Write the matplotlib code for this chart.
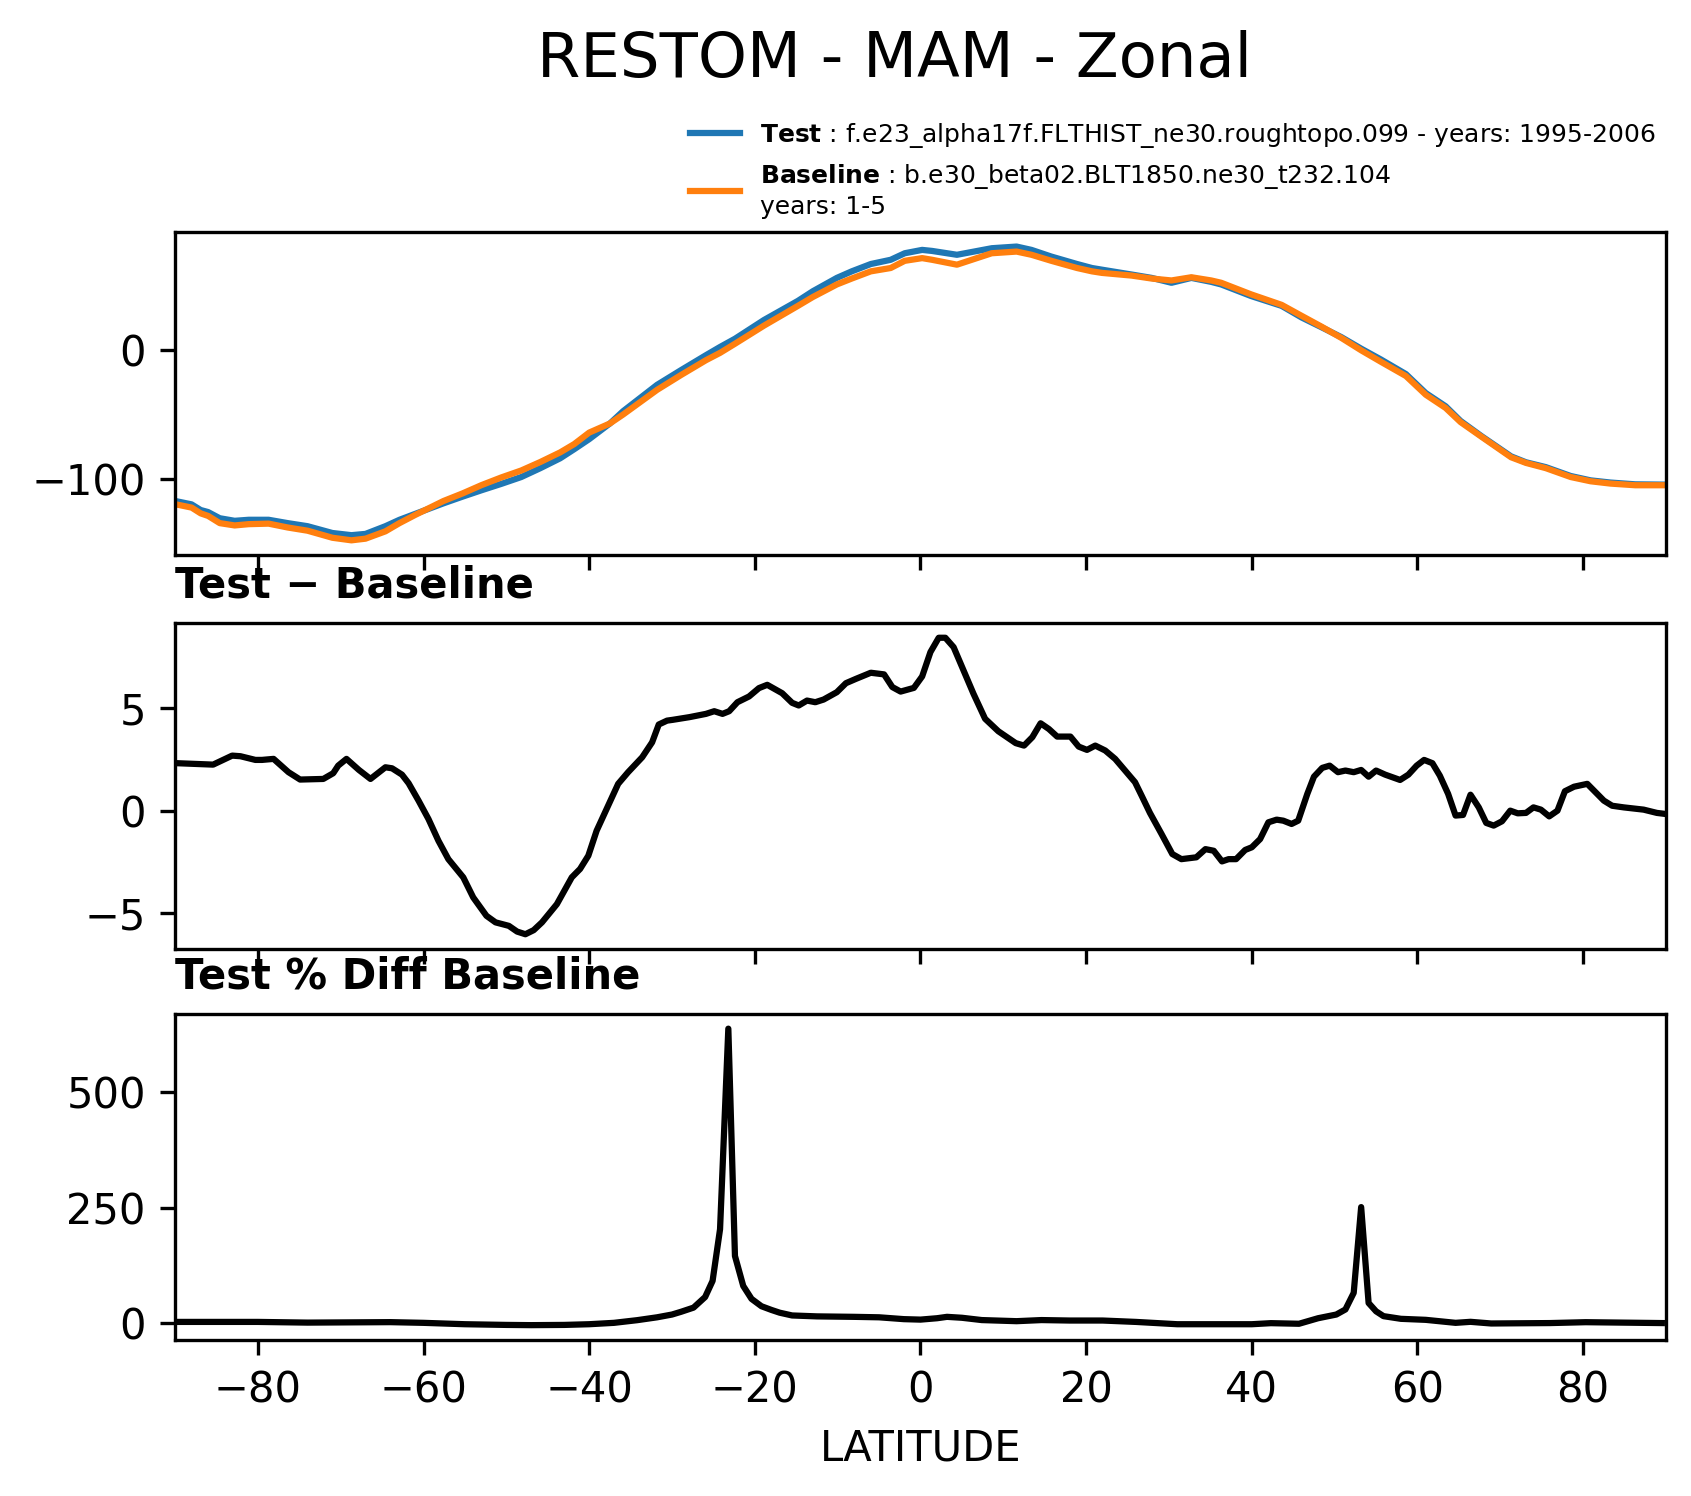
import numpy as np
import matplotlib
matplotlib.use("Agg")
import matplotlib.pyplot as plt

# zonal mean RESTOM, test and baseline
lat_top = [-89.5, -88, -86.9, -86, -84.6, -82.8, -81.1, -78.7, -76.4, -74, -71, -68.7, -67,
           -64.6, -62.9, -61, -57.6, -55.3, -53, -50.6, -48.2, -45.9, -43.5, -41.8, -40,
           -37.5, -35.9, -31.8, -28.9, -25.9, -24.2, -22.4, -18.9, -14.8, -13, -10.1, -8.3,
           -6, -3.6, -1.9, 0.2, 1.4, 4.4, 8.6, 11.6, 13.4, 15.8, 18.9, 20.7, 21.9, 25.5,
           27.9, 30.3, 32.7, 35.1, 36.3, 39.9, 43.6, 46, 48.4, 50.8, 53.2, 55.6, 58.6, 61,
           63.4, 65.2, 67.7, 71.3, 73.1, 75.5, 78.5, 80.9, 83.3, 86.3, 89.5]
test_vals = [-118, -120, -124.4, -126, -130.8, -132.8, -132, -132, -134.6, -137, -142.3,
             -144, -143, -137, -132, -127.4, -119.2, -114, -109, -104, -98.7, -91.8, -84.1,
             -77, -69.2, -57, -47.4, -26.9, -15.4, -3.8, 2.6, 9, 23.6, 38.5, 46, 56.4, 61.5,
             67.2, 70.5, 75.6, 78.2, 77.4, 74.4, 79.5, 80.8, 78.2, 73, 67.2, 64.1, 62.8, 59,
             56.4, 52.6, 56.4, 53.3, 51.3, 42.3, 34.6, 25.6, 18, 10.3, 1.3, -7.2, -18.5,
             -33.3, -43.6, -55, -66.7, -82.6, -87.2, -91, -97.9, -101.3, -103, -104.4,
             -104.6]
base_vals = [-120.5, -122.5, -127, -129, -134.6, -136.4, -135.4, -135, -138, -140.5, -146,
             -148, -146.7, -141, -134.6, -128.2, -117.4, -111.5, -105, -99, -93.6, -87,
             -79.5, -73, -64.1, -57, -50, -30.8, -19.2, -7.7, -2, 5.1, 19.2, 34.6, 41.5,
             51.3, 55.9, 61.5, 64.1, 69.7, 71.8, 70.5, 66.7, 75.6, 76.9, 74.4, 69.7, 64.1,
             61.5, 60.3, 58.2, 55.9, 54.4, 56.9, 54.4, 52.6, 43.6, 35.4, 26.9, 18.5, 9.7, 0,
             -9, -20, -34.6, -44.9, -55.9, -67.2, -83.3, -87.7, -91.8, -98.7, -102, -103.8,
             -105.1, -105.1]

# test - baseline
lat_diff = [-89.8, -85.4, -83.1, -82.1, -80.3, -79.5, -78.1, -76.3, -74.9, -72.1, -70.9,
            -70.3, -69.3, -67.8, -66.4, -64.6, -63.8, -62.6, -61.8, -60.6, -59.4, -58.2,
            -57.0, -55.2, -54.0, -52.4, -51.3, -49.7, -48.7, -47.7, -46.7, -45.7, -43.9,
            -42.1, -41.1, -40.1, -39.1, -37.9, -36.5, -35.3, -33.6, -32.4, -31.6, -30.6,
            -29.9, -27.9, -25.9, -24.9, -23.9, -23.1, -22.1, -20.7, -19.5, -18.5, -16.7,
            -15.5, -14.7, -13.7, -12.7, -11.7, -10.1, -9.0, -7.8, -6.0, -4.4, -3.4, -2.4,
            -0.8, 0.2, 1.2, 2.2, 3.0, 4.0, 5.2, 6.4, 7.8, 9.4, 11.5, 12.5, 13.5, 14.5, 15.5,
            16.5, 18.1, 19.1, 20.1, 21.1, 22.3, 23.5, 24.7, 25.9, 26.7, 27.7, 29.1, 30.4,
            31.5, 33.3, 34.4, 35.4, 36.4, 37.2, 38.1, 39.2, 40.0, 41.0, 42.0, 43.0, 43.8,
            44.8, 45.6, 46.7, 47.5, 48.5, 49.4, 50.4, 51.3, 52.3, 53.2, 54.1, 55.0, 56.1,
            57.9, 58.9, 59.9, 60.8, 61.8, 62.7, 63.7, 64.6, 65.5, 66.4, 67.4, 68.3, 69.2,
            70.2, 71.2, 72.1, 73.1, 74.0, 74.9, 75.9, 76.9, 77.8, 78.9, 80.5, 81.7, 82.5,
            83.5, 84.9, 87.3, 88.9, 89.9]
diff_vals = [2.32, 2.25, 2.69, 2.66, 2.48, 2.48, 2.53, 1.88, 1.52, 1.55, 1.83, 2.2, 2.53,
             1.99, 1.55, 2.12, 2.07, 1.76, 1.34, 0.49, -0.41, -1.47, -2.37, -3.26, -4.24,
             -5.14, -5.46, -5.63, -5.91, -6.04, -5.84, -5.46, -4.57, -3.26, -2.85, -2.2,
             -0.98, 0.08, 1.31, 1.88, 2.61, 3.34, 4.21, 4.4, 4.44, 4.57, 4.73, 4.86, 4.73,
             4.86, 5.3, 5.58, 5.99, 6.15, 5.74, 5.27, 5.14, 5.38, 5.3, 5.43, 5.79, 6.23,
             6.44, 6.74, 6.66, 6.04, 5.82, 6.0, 6.56, 7.75, 8.45, 8.45, 7.99, 6.85, 5.71,
             4.49, 3.88, 3.3, 3.18, 3.59, 4.27, 3.99, 3.62, 3.62, 3.13, 2.97, 3.18, 2.94,
             2.53, 1.96, 1.39, 0.73, -0.11, -1.14, -2.12, -2.37, -2.28, -1.88, -1.96, -2.48,
             -2.37, -2.37, -1.92, -1.79, -1.39, -0.57, -0.44, -0.49, -0.65, -0.49, 0.82,
             1.66, 2.09, 2.2, 1.88, 1.96, 1.88, 1.99, 1.66, 1.96, 1.76, 1.5, 1.76, 2.2, 2.48,
             2.32, 1.71, 0.82, -0.24, -0.21, 0.78, 0.16, -0.6, -0.73, -0.52, 0.0, -0.13,
             -0.11, 0.16, 0.05, -0.28, 0.0, 0.95, 1.17, 1.31, 0.82, 0.49, 0.24, 0.16, 0.05,
             -0.11, -0.16]

# test % diff baseline
lat_pct = [-89.5, -80, -74, -64, -60, -55, -50, -47, -43, -40, -37, -34.2, -31.8, -30,
           -28.9, -27.4, -26.0, -25.1, -24.2, -23.2, -22.4, -21.4, -20.4, -19.2, -18, -17,
           -15.5, -12.5, -8, -5, -2, 0, 2, 3.2, 5, 7.4, 11.6, 14.6, 18, 22, 26, 31, 35, 40,
           42.3, 45.7, 48, 50.2, 51.3, 52.3, 53.2, 54.1, 55.0, 55.9, 58, 61, 64.6, 66.4,
           68.9, 76, 80.3, 89.5]
pct_vals = [2, 2, 0.5, 1.5, 0, -3, -4.5, -5, -4.5, -3, 0, 5.8, 12, 18, 24, 33, 56, 91,
            203, 638, 145, 80, 52, 36, 28, 22, 16, 14, 13, 12, 8, 7, 10, 13, 11, 6, 3.6, 6,
            5, 5, 2, -3, -3, -3, -0.7, -2, 10, 18, 29, 65, 251, 43, 25, 14.5, 8.7, 6.5, 0,
            2.2, -1.4, -0.5, 1.4, -0.5]

test_label = r"$\bf{Test}$ : f.e23_alpha17f.FLTHIST_ne30.roughtopo.099 - years: 1995-2006"
base_label = r"$\bf{Baseline}$ : b.e30_beta02.BLT1850.ne30_t232.104" + "\nyears: 1-5"

fig = plt.figure(figsize=(1691 / 300, 1496 / 300), dpi=300)
left, width = 0.1035, 0.8817
ax1 = fig.add_axes([left, 0.629, width, 0.216])
ax2 = fig.add_axes([left, 0.3656, width, 0.218], sharex=ax1)
ax3 = fig.add_axes([left, 0.1043, width, 0.218], sharex=ax1)

ax1.plot(lat_top, test_vals, color="#1f77b4", label=test_label)
ax1.plot(lat_top, base_vals, color="#ff7f0e", label=base_label)
ax2.plot(lat_diff, diff_vals, color="black")
ax3.plot(lat_pct, pct_vals, color="black")

ax2.set_title("Test \u2212 Baseline", loc="left", fontweight="bold", fontsize=10)
ax3.set_title("Test % Diff Baseline", loc="left", fontweight="bold", fontsize=10)

ax1.set_xlim(-90, 90)
ax1.set_xticks(np.arange(-80, 81, 20))
for ax in (ax1, ax2):
    ax.tick_params(labelbottom=False)
ax3.set_xlabel("LATITUDE")

fig.legend(loc="lower left", bbox_to_anchor=(0.4024, 0.847), bbox_transform=fig.transFigure,
           frameon=False, fontsize=6, borderaxespad=0)
fig.suptitle("RESTOM - MAM - Zonal", fontsize=15, x=0.529)

fig.savefig("out.png", dpi=300)
